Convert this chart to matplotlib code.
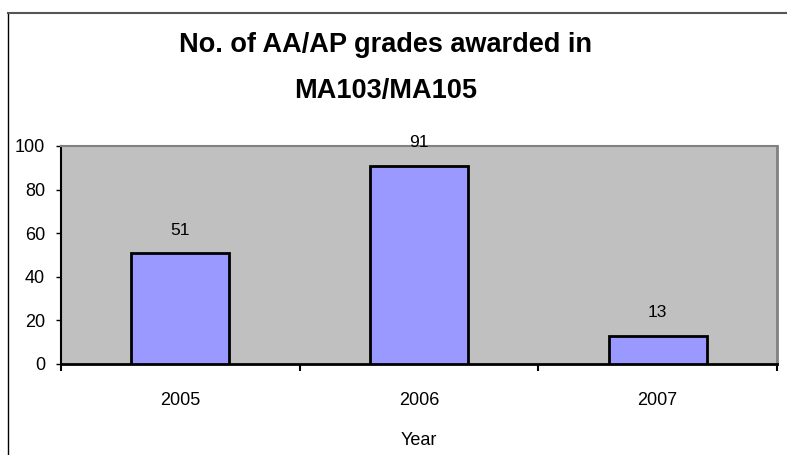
import matplotlib
matplotlib.use("Agg")
import matplotlib.pyplot as plt
from matplotlib.lines import Line2D

years = ["2005", "2006", "2007"]
counts = [51, 91, 13]
yticks = [0, 20, 40, 60, 80, 100]

plt.rcParams['font.family'] = ['Liberation Sans', 'DejaVu Sans']

fig = plt.figure(figsize=(7.87, 4.55), dpi=100)
ax = fig.add_axes([61/787, 1-364/455, (777-61)/787, (364-146)/455])
ax.set_facecolor('#C0C0C0')

x = list(range(len(years)))
bars = ax.bar(x, counts, width=0.41, color='#9999FF', edgecolor='black', linewidth=2, zorder=3)
for xi, v in zip(x, counts):
    ax.annotate(str(v), (xi, v), xytext=(0, 11), textcoords='offset points',
                ha='center', va='bottom', fontsize=12.5)

ax.set_xlim(-0.5, len(years) - 0.5)
ax.set_ylim(0, 100)
ax.set_yticks(yticks)
ax.set_yticklabels([str(t) for t in yticks], fontsize=13)
ax.tick_params(axis='y', length=3.5, width=1, pad=8, direction='out')

ax.set_xticks(x)
ax.set_xticklabels(years, fontsize=13)
ax.tick_params(axis='x', which='major', length=0, pad=20)
ax.set_xticks([i + 0.5 for i in range(-1, len(years))], minor=True)
ax.tick_params(axis='x', which='minor', length=5, width=1.5, direction='out')

ax.spines['left'].set_color('black')
ax.spines['left'].set_linewidth(1.5)
ax.spines['bottom'].set_color('black')
ax.spines['bottom'].set_linewidth(2)
ax.spines['top'].set_color('#808080')
ax.spines['top'].set_linewidth(1.5)
ax.spines['right'].set_color('#808080')
ax.spines['right'].set_linewidth(2)

ax.set_xlabel("Year", fontsize=13, labelpad=17)

fig.text(0.49, 1-45/455, "No. of AA/AP grades awarded in", ha='center', va='center',
         fontsize=19.5, fontweight='bold')
fig.text(0.49, 1-91/455, "MA103/MA105", ha='center', va='center',
         fontsize=19.5, fontweight='bold')

# figure border (partially visible)
fig.add_artist(Line2D([8/787, 8/787], [0, 1-13/455], color='black', lw=1, transform=fig.transFigure))
fig.add_artist(Line2D([8/787, 1], [1-13/455, 1-13/455], color='#555555', lw=1.5, transform=fig.transFigure))

fig.savefig("out.png", dpi=100)
